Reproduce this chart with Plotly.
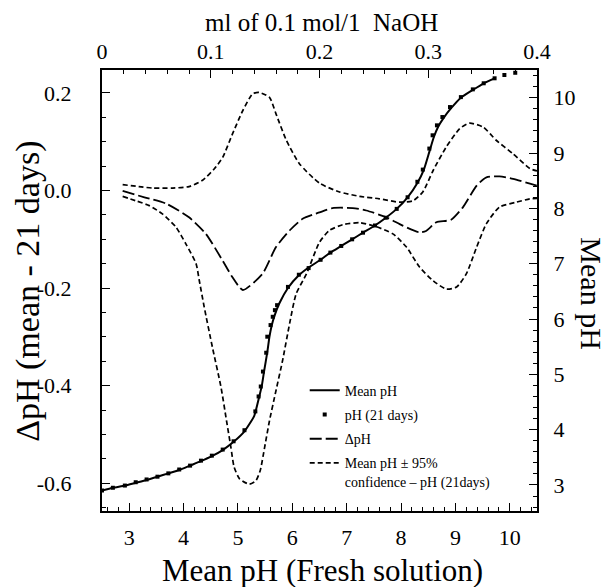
import plotly.graph_objects as go

# ---------------- data ----------------
# Titration curve: ml of 0.1 mol/l NaOH (top axis) vs mean pH (right axis)
ml_mean = [0.000, 0.010, 0.021, 0.031, 0.041, 0.051, 0.061, 0.071, 0.081, 0.091,
           0.101, 0.111, 0.121, 0.131, 0.140, 0.144, 0.147, 0.149, 0.152, 0.154,
           0.156, 0.159, 0.163, 0.171, 0.181, 0.190, 0.201, 0.210, 0.220, 0.230,
           0.240, 0.251, 0.261, 0.271, 0.281, 0.290, 0.296, 0.301, 0.305, 0.309,
           0.314, 0.321, 0.330, 0.341, 0.351, 0.361]
ph_mean = [2.90, 2.95, 2.99, 3.04, 3.09, 3.15, 3.21, 3.27, 3.35, 3.43,
           3.52, 3.63, 3.78, 3.97, 4.25, 4.55, 4.80, 5.05, 5.40, 5.68,
           5.88, 6.08, 6.28, 6.56, 6.79, 6.93, 7.07, 7.20, 7.32, 7.44,
           7.56, 7.69, 7.83, 7.99, 8.20, 8.46, 8.70, 9.02, 9.28, 9.47,
           9.63, 9.81, 10.00, 10.14, 10.26, 10.35]

# pH after 21 days (dots)
ml_21 = [0.000, 0.010, 0.021, 0.031, 0.041, 0.051, 0.061, 0.071, 0.081, 0.091,
         0.101, 0.111, 0.121, 0.131, 0.141, 0.144, 0.146, 0.148, 0.151, 0.152,
         0.155, 0.157, 0.159, 0.161, 0.171, 0.181, 0.190, 0.201, 0.210, 0.220,
         0.230, 0.240, 0.251, 0.261, 0.271, 0.281, 0.290, 0.295, 0.301, 0.304,
         0.308, 0.313, 0.320, 0.330, 0.341, 0.351, 0.361, 0.370, 0.380]
ph_21 = [2.90, 2.95, 2.99, 3.05, 3.10, 3.15, 3.21, 3.28, 3.35, 3.44,
         3.53, 3.64, 3.79, 3.99, 4.33, 4.60, 4.78, 5.05, 5.39, 5.68,
         5.89, 6.04, 6.16, 6.25, 6.58, 6.80, 6.92, 7.07, 7.20, 7.32,
         7.44, 7.56, 7.69, 7.83, 7.99, 8.20, 8.48, 8.70, 9.08, 9.32,
         9.50, 9.65, 9.83, 10.01, 10.15, 10.26, 10.35, 10.41, 10.45]

# Delta pH (mean - 21 days) vs mean pH of fresh solution
ph_d = [2.88, 3.28, 3.68, 4.10, 4.41, 4.72, 4.90, 5.09, 5.45, 5.70,
        5.95, 6.19, 6.50, 6.74, 7.11, 7.36, 7.73, 8.03, 8.34, 8.46,
        8.65, 8.92, 9.14, 9.39, 9.57, 9.81, 10.06, 10.37, 10.50]
delta = [-0.001, -0.014, -0.027, -0.055, -0.089, -0.144, -0.178, -0.204, -0.171, -0.116,
         -0.082, -0.058, -0.045, -0.036, -0.036, -0.041, -0.055, -0.072, -0.086, -0.083,
         -0.065, -0.060, -0.034, 0.010, 0.027, 0.029, 0.024, 0.014, 0.010]

# Upper 95% confidence band
ph_up = [2.88, 3.18, 3.43, 3.80, 4.10, 4.35, 4.57, 4.72, 4.90, 5.09,
         5.27, 5.39, 5.58, 5.70, 5.89, 6.13, 6.50, 6.87, 7.24, 7.60,
         7.97, 8.22, 8.40, 8.59, 8.83, 9.08, 9.26, 9.51, 9.75, 10.06,
         10.37, 10.50]
up = [0.012, 0.008, 0.005, 0.005, 0.008, 0.021, 0.045, 0.068, 0.116, 0.164,
      0.198, 0.201, 0.191, 0.157, 0.103, 0.055, 0.015, -0.003, -0.012, -0.017,
      -0.024, -0.021, -0.003, 0.041, 0.089, 0.127, 0.138, 0.130, 0.103, 0.075,
      0.045, 0.040]

# Lower 95% confidence band
ph_lo = [2.88, 3.12, 3.37, 3.61, 3.86, 4.04, 4.23, 4.29, 4.38, 4.53,
         4.69, 4.79, 4.87, 4.93, 5.03, 5.21, 5.33, 5.41, 5.49, 5.58,
         5.70, 5.82, 5.95, 6.07, 6.26, 6.50, 6.68, 6.93, 7.24, 7.54,
         7.85, 8.10, 8.34, 8.59, 8.83, 9.02, 9.20, 9.39, 9.57, 9.81,
         10.12, 10.37, 10.50]
lo = [-0.012, -0.021, -0.031, -0.048, -0.075, -0.109, -0.150, -0.185, -0.239, -0.321,
      -0.404, -0.472, -0.526, -0.567, -0.591, -0.602, -0.595, -0.574, -0.527, -0.472,
      -0.410, -0.349, -0.273, -0.212, -0.171, -0.106, -0.082, -0.070, -0.066, -0.074,
      -0.089, -0.116, -0.157, -0.185, -0.202, -0.198, -0.171, -0.116, -0.068, -0.034,
      -0.024, -0.017, -0.016]

# tick labels
bottom_ticks = [3, 4, 5, 6, 7, 8, 9, 10]
top_ticks = [0, 0.1, 0.2, 0.3, 0.4]
top_labels = ["0", "0.1", "0.2", "0.3", "0.4"]
left_ticks = [0.2, 0.0, -0.2, -0.4, -0.6]
left_labels = ["0.2", "0.0", "-0.2", "-0.4", "-0.6"]
right_ticks = [3, 4, 5, 6, 7, 8, 9, 10]

# ---------------- figure ----------------
SERIF = "Liberation Serif, Times New Roman, serif"
fig = go.Figure()

fig.add_trace(go.Scatter(x=ml_mean, y=ph_mean, xaxis="x2", yaxis="y2", mode="lines",
                         name="Mean pH", legendgroup="a",
                         line=dict(color="black", width=2, shape="spline", smoothing=0.5)))
fig.add_trace(go.Scatter(x=ml_21, y=ph_21, xaxis="x2", yaxis="y2", mode="markers",
                         name="pH (21 days)", legendgroup="b",
                         marker=dict(symbol="square", size=4, color="black")))
fig.add_trace(go.Scatter(x=ph_d, y=delta, mode="lines", name="ΔpH", legendgroup="c",
                         line=dict(color="black", width=1.8, dash="12px,4px", shape="spline", smoothing=0.6)))
fig.add_trace(go.Scatter(x=ph_up, y=up, mode="lines", legendgroup="d",
                         name="Mean pH ± 95%<br>confidence – pH (21days)",
                         line=dict(color="black", width=1.7, dash="5px,3px", shape="spline", smoothing=0.6)))
fig.add_trace(go.Scatter(x=ph_lo, y=lo, mode="lines", showlegend=False, legendgroup="d",
                         line=dict(color="black", width=1.7, dash="5px,3px", shape="spline", smoothing=0.6)))

tickfont = dict(family=SERIF, size=22, color="black")
common = dict(showgrid=False, zeroline=False, showline=True, linecolor="black", linewidth=2,
              ticks="inside", ticklen=8, tickwidth=1.2, tickcolor="black", tickfont=tickfont)

# the page body adds an 8 px margin, so the figure is 8 px smaller and margins compensate
fig.update_layout(
    width=605, height=579,
    margin=dict(l=94, r=76, t=62, b=76, autoexpand=False),
    paper_bgcolor="white", plot_bgcolor="white",
    font=dict(family=SERIF, color="black"),
    xaxis=dict(range=[2.5, 10.5], side="bottom", tickvals=bottom_ticks, ticklabelstandoff=6,
               minor=dict(dtick=0.2, tick0=0, ticks="inside", ticklen=4, tickcolor="black", showgrid=False),
               **common),
    xaxis2=dict(range=[0, 0.4], side="top", overlaying="x", tickvals=top_ticks, ticktext=top_labels,
                ticklabelstandoff=0,
                minor=dict(dtick=0.02, tick0=0, ticks="inside", ticklen=4, tickcolor="black", showgrid=False),
                **common),
    yaxis=dict(range=[-0.657, 0.247], side="left", tickvals=left_ticks, ticktext=left_labels,
               ticklabelstandoff=24,
               minor=dict(dtick=0.05, tick0=0, ticks="inside", ticklen=4, tickcolor="black", showgrid=False),
               **common),
    yaxis2=dict(range=[2.53, 10.5], side="right", overlaying="y", tickvals=right_ticks,
                ticklabelstandoff=10,
                minor=dict(dtick=0.2, tick0=0, ticks="inside", ticklen=4, tickcolor="black", showgrid=False),
                **common),
    legend=dict(x=0.466, y=0.309, xanchor="left", yanchor="top", bgcolor="rgba(0,0,0,0)",
                font=dict(family=SERIF, size=14, color="black"), valign="top",
                itemwidth=30, traceorder="grouped", tracegroupgap=3),
    showlegend=True,
)

fig.add_annotation(text="Mean pH (Fresh solution)", xref="paper", yref="paper", x=0.506, y=-0.134,
                   xanchor="center", yanchor="middle", showarrow=False,
                   font=dict(family=SERIF, size=31, color="black"))
fig.add_annotation(text="ml of 0.1 mol/1  NaOH", xref="paper", yref="paper", x=0.505, y=1.1077,
                   xanchor="center", yanchor="middle", showarrow=False,
                   font=dict(family=SERIF, size=25, color="black"))
fig.add_annotation(text="ΔpH (mean - 21 days)", xref="paper", yref="paper", x=-0.170, y=0.497,
                   xanchor="center", yanchor="middle", showarrow=False, textangle=-90,
                   font=dict(family=SERIF, size=34, color="black"))
fig.add_annotation(text="Mean pH", xref="paper", yref="paper", x=1.126, y=0.494,
                   xanchor="center", yanchor="middle", showarrow=False, textangle=90,
                   font=dict(family=SERIF, size=30, color="black"))

fig.write_html("out.html")
